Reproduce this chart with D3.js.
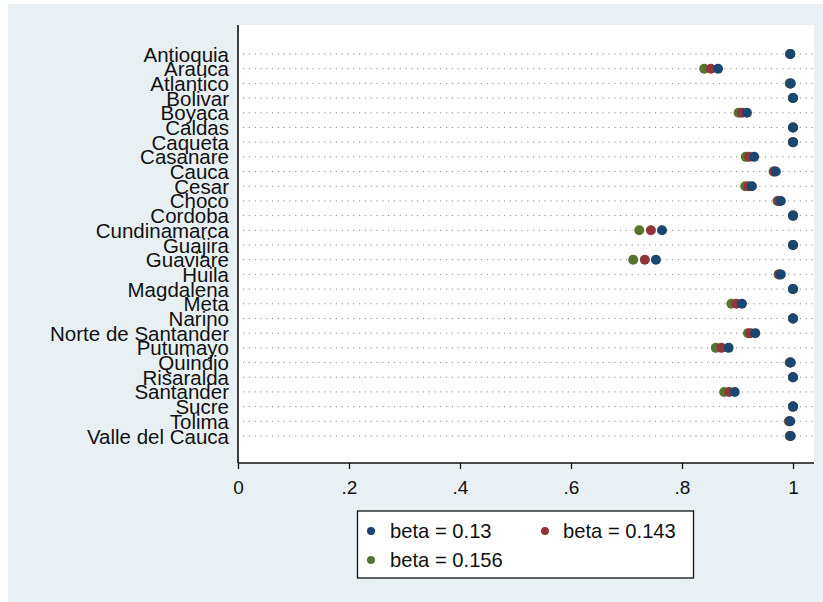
<!DOCTYPE html>
<html>
<head>
<meta charset="utf-8">
<script src="https://cdn.jsdelivr.net/npm/d3@7"></script>
<style>
  html, body { margin: 0; padding: 0; background: #ffffff; }
  svg { display: block; font-family: "Liberation Sans", Arial, sans-serif; }
</style>
</head>
<body>
<svg id="chart" width="823" height="602"></svg>
<script>
// Departments, top to bottom
const departments = [
  "Antioquia", "Arauca", "Atlantico", "Bolivar", "Boyaca", "Caldas", "Caqueta",
  "Casanare", "Cauca", "Cesar", "Choco", "Cordoba", "Cundinamarca", "Guajira",
  "Guaviare", "Huila", "Magdalena", "Meta", "Narino", "Norte de Santander",
  "Putumayo", "Quindio", "Risaralda", "Santander", "Sucre", "Tolima", "Valle del Cauca"
];

// Efficiency score per department for each beta
const beta130 = [0.995, 0.865, 0.996, 1.000, 0.917, 1.000, 1.000, 0.930, 0.969, 0.926,
                 0.978, 1.000, 0.764, 1.000, 0.753, 0.978, 1.000, 0.908, 1.000, 0.932,
                 0.884, 0.996, 1.000, 0.895, 1.000, 0.995, 0.996];
const beta143 = [0.995, 0.852, 0.995, 1.000, 0.908, 1.000, 1.000, 0.921, 0.966, 0.920,
                 0.974, 1.000, 0.744, 1.000, 0.733, 0.975, 1.000, 0.898, 1.000, 0.923,
                 0.871, 0.995, 1.000, 0.885, 1.000, 0.993, 0.995];
const beta156 = [0.995, 0.840, 0.994, 1.000, 0.902, 1.000, 1.000, 0.915, 0.965, 0.914,
                 0.972, 1.000, 0.723, 1.000, 0.712, 0.974, 1.000, 0.889, 1.000, 0.919,
                 0.861, 0.994, 1.000, 0.876, 1.000, 0.993, 0.994];

const xTicks = [0, 0.2, 0.4, 0.6, 0.8, 1];
const xTickLabels = ["0", ".2", ".4", ".6", ".8", "1"];

const seriesNames = ["beta = 0.13", "beta = 0.143", "beta = 0.156"];
const seriesColors = ["#1a476f", "#90353b", "#55752f"];
const seriesValues = [beta130, beta143, beta156];

const svg = d3.select("#chart");

// Graph region background
svg.append("rect")
  .attr("x", 8).attr("y", 4).attr("width", 815).attr("height", 598)
  .attr("fill", "#e9f0f3");

// Plot region
const plot = { left: 238, right: 814, top: 25, bottom: 463 };
svg.append("rect")
  .attr("x", plot.left).attr("y", plot.top)
  .attr("width", plot.right - plot.left).attr("height", plot.bottom - plot.top)
  .attr("fill", "#ffffff");

const x = d3.scaleLinear().domain([0, 1]).range([238, 793]);
const y = d3.scalePoint().domain(departments).range([54, 436]);

// Dotted row guides
svg.append("g").selectAll("line")
  .data(departments)
  .join("line")
  .attr("x1", plot.left + 5).attr("x2", plot.right)
  .attr("y1", d => y(d)).attr("y2", d => y(d))
  .attr("stroke", "#8a8a8a")
  .attr("stroke-width", 1)
  .attr("stroke-dasharray", "1.2,4.6");

// Markers: later series underneath, first series on top
const order = [2, 1, 0];
order.forEach(s => {
  svg.append("g").selectAll("circle")
    .data(departments)
    .join("circle")
    .attr("cx", (d, i) => x(seriesValues[s][i]))
    .attr("cy", d => y(d))
    .attr("r", 5)
    .attr("fill", seriesColors[s]);
});

// Category labels
svg.append("g").selectAll("text")
  .data(departments)
  .join("text")
  .attr("x", 229)
  .attr("y", d => y(d) + 7.5)
  .attr("text-anchor", "end")
  .attr("font-size", 20.5)
  .attr("fill", "#111")
  .text(d => d);

// Y axis line
svg.append("line")
  .attr("x1", plot.left).attr("x2", plot.left)
  .attr("y1", plot.top).attr("y2", plot.bottom)
  .attr("stroke", "#111").attr("stroke-width", 1.6);

// X axis
const xAxis = d3.axisBottom(x)
  .tickValues(xTicks)
  .tickFormat((d, i) => xTickLabels[i])
  .tickSize(6)
  .tickPadding(12);

const gx = svg.append("g")
  .attr("transform", `translate(0,${plot.bottom})`)
  .call(xAxis);
gx.select(".domain").remove();
gx.selectAll(".tick line").attr("stroke", "#111").attr("stroke-width", 1.3);
gx.selectAll(".tick text")
  .attr("font-size", 19)
  .attr("fill", "#111")
  .attr("font-family", "Liberation Sans, Arial, sans-serif");
gx.append("line")
  .attr("x1", plot.left).attr("x2", plot.right)
  .attr("y1", 0).attr("y2", 0)
  .attr("stroke", "#111").attr("stroke-width", 1.6);

// Legend
const legend = svg.append("g");
legend.append("rect")
  .attr("x", 357.5).attr("y", 511)
  .attr("width", 336).attr("height", 67)
  .attr("fill", "#ffffff")
  .attr("stroke", "#111").attr("stroke-width", 1.3);

const legendPos = [
  { cx: 371, tx: 390, cy: 531 },
  { cx: 545, tx: 563, cy: 531 },
  { cx: 371, tx: 390, cy: 560 }
];
seriesNames.forEach((name, i) => {
  const p = legendPos[i];
  legend.append("circle")
    .attr("cx", p.cx).attr("cy", p.cy).attr("r", 4)
    .attr("fill", seriesColors[i]);
  legend.append("text")
    .attr("x", p.tx).attr("y", p.cy + 7)
    .attr("font-size", 20.2)
    .attr("fill", "#111")
    .text(name);
});
</script>
</body>
</html>
